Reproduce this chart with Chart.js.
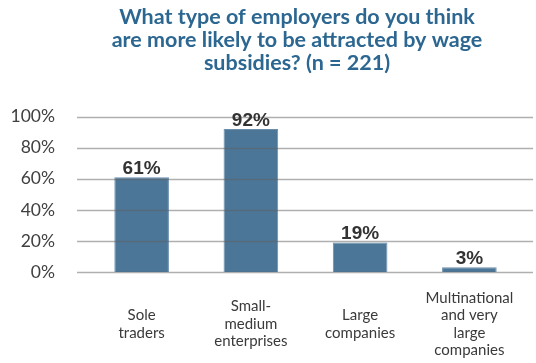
<!DOCTYPE html>
<html>
<head>
<meta charset="utf-8">
<script src="https://cdn.jsdelivr.net/npm/chart.js@4/dist/chart.umd.min.js"></script>
<style>
  html, body { margin: 0; padding: 0; background: #fff; }
  #wrap { width: 536px; height: 363px; }
</style>
</head>
<body>
<div id="wrap"><canvas id="chart-canvas" width="536" height="363"></canvas></div>
<script>
const titleLines = ['What type of employers do you think', 'are more likely to be attracted by wage', 'subsidies? (n = 221)'];
const employerTypes = [
    ['Sole', 'traders'],
    ['Small-', 'medium', 'enterprises'],
    ['Large', 'companies'],
    ['Multinational', 'and very', 'large', 'companies']
];
const shares = [61, 92, 19, 3];

// horizontal grid lines, drawn over the bars and a little wider than the plot
const gridOverBars = {
    id: 'gridOverBars',
    afterDatasetsDraw(chart) {
        const ctx = chart.ctx;
        const y = chart.scales.y;
        const area = chart.chartArea;
        ctx.save();
        ctx.strokeStyle = 'rgba(95, 95, 95, 0.5)';
        ctx.lineWidth = 1.5;
        y.ticks.forEach(t => {
            const py = Math.round(y.getPixelForValue(t.value)) + 0.5;
            ctx.beginPath();
            ctx.moveTo(area.left - 10, py);
            ctx.lineTo(area.right + 9, py);
            ctx.stroke();
        });
        ctx.restore();
    }
};

// percentage above each bar
const barValues = {
    id: 'barValues',
    afterDatasetsDraw(chart) {
        const ctx = chart.ctx;
        const meta = chart.getDatasetMeta(0);
        ctx.save();
        ctx.font = 'bold 19px "Liberation Sans", Arial, sans-serif';
        ctx.fillStyle = '#333333';
        ctx.textAlign = 'center';
        ctx.textBaseline = 'bottom';
        meta.data.forEach((bar, i) => {
            ctx.fillText(shares[i] + '%', bar.x, bar.y + 1);
        });
        ctx.restore();
    }
};

// category names, each block centred vertically under its bar
const categoryLabels = {
    id: 'categoryLabels',
    afterDraw(chart) {
        const ctx = chart.ctx;
        const x = chart.scales.x;
        const lh = 17.5;
        const mid = chart.chartArea.bottom + 52;
        ctx.save();
        ctx.font = '15px Lato, sans-serif';
        ctx.fillStyle = '#3a3a3a';
        ctx.textAlign = 'center';
        ctx.textBaseline = 'middle';
        employerTypes.forEach((lines, i) => {
            const px = x.getPixelForTick(i);
            const top = mid - (lines.length - 1) * lh / 2;
            lines.forEach((s, j) => ctx.fillText(s, px, top + j * lh));
        });
        ctx.restore();
    }
};

// the heading sits centred over the right-hand part of the canvas
const shiftTitle = {
    id: 'shiftTitle',
    afterLayout(chart) {
        if (chart.titleBlock) chart.titleBlock.left = 70;
    }
};

new Chart(document.getElementById('chart-canvas'), {
    type: 'bar',
    data: {
        labels: employerTypes,
        datasets: [{
            data: shares,
            backgroundColor: '#4b7698',
            borderColor: '#6a8fad',
            borderWidth: 1,
            categoryPercentage: 1,
            barPercentage: 0.5
        }]
    },
    options: {
        responsive: false,
        animation: false,
        layout: { padding: { left: 0, right: 12, top: 0, bottom: 0 } },
        plugins: {
            legend: { display: false },
            tooltip: { enabled: false },
            title: {
                display: true,
                text: titleLines,
                color: '#2c6791',
                font: { family: 'Lato', size: 21.5, weight: 'bold', lineHeight: 1.08 },
                padding: { top: 5, bottom: 42 }
            }
        },
        scales: {
            y: {
                min: 0,
                max: 100,
                afterFit(scale) { scale.width = 87; },
                grid: { display: false },
                border: { display: false },
                ticks: {
                    stepSize: 20,
                    padding: 24,
                    color: '#404040',
                    font: { family: 'Lato', size: 17.5 },
                    callback: v => v + '%'
                }
            },
            x: {
                afterFit(scale) { scale.height = 91; },
                grid: { display: false },
                border: { display: false },
                ticks: { display: false }
            }
        }
    },
    plugins: [gridOverBars, barValues, categoryLabels, shiftTitle]
});
</script>
</body>
</html>
